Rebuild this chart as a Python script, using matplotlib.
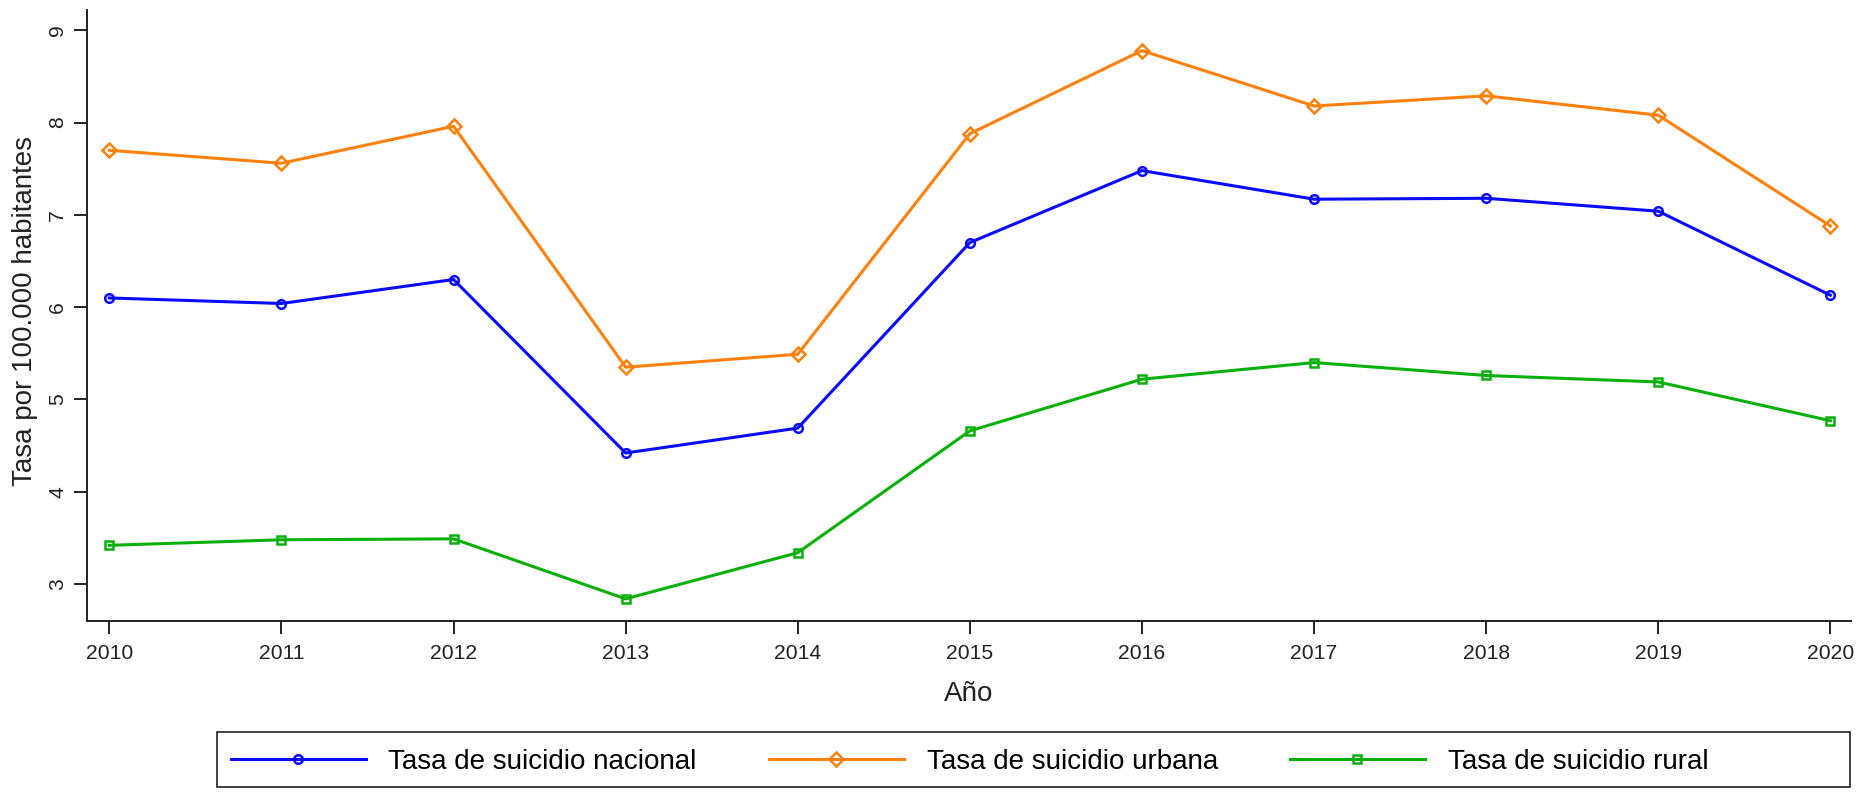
import matplotlib
matplotlib.use("Agg")
import matplotlib.pyplot as plt
from matplotlib.lines import Line2D
from matplotlib.patches import Rectangle

plt.rcParams['font.family'] = ['Liberation Sans', 'DejaVu Sans']

years = [2010, 2011, 2012, 2013, 2014, 2015, 2016, 2017, 2018, 2019, 2020]
nacional = [6.10, 6.04, 6.30, 4.42, 4.69, 6.70, 7.48, 7.17, 7.18, 7.04, 6.13]
urbana = [7.70, 7.56, 7.96, 5.35, 5.49, 7.88, 8.78, 8.18, 8.29, 8.08, 6.88]
rural = [3.42, 3.48, 3.49, 2.84, 3.34, 4.66, 5.22, 5.40, 5.26, 5.19, 4.77]

labels = ["Tasa de suicidio nacional", "Tasa de suicidio urbana", "Tasa de suicidio rural"]
colors = ["#0a0aff", "#ff800a", "#0ab00a"]
markers = ["o", "D", "s"]
yticks = [3, 4, 5, 6, 7, 8, 9]

W, H = 1876, 793
fig = plt.figure(figsize=(W / 100, H / 100), dpi=100)
ax = fig.add_axes([87 / W, 1 - 621 / H, (1851 - 87) / W, (621 - 10) / H])

series = [nacional, urbana, rural]
handles = []
for vals, c, m, lab in zip(series, colors, markers, labels):
    ms = 6.8 if m == "D" else 6.2
    style = dict(color=c, lw=2.2, marker=m, ms=ms, mfc="none", mec=c, mew=1.8)
    ax.plot(years, vals, **style)
    handles.append(Line2D([], [], label=lab, **style))

ax.set_xlim(2009.87, 2020.12)
ax.set_ylim(2.6, 9.22)
ax.set_xticks(years)
ax.set_yticks(yticks)
ax.set_yticklabels([str(v) for v in yticks], rotation=90, va="center")

for s in ["top", "right"]:
    ax.spines[s].set_visible(False)
for s in ["left", "bottom"]:
    ax.spines[s].set_linewidth(1.4)
    ax.spines[s].set_color("#222222")

ax.tick_params(axis="both", length=9.4, width=1.4, color="#222222",
               labelsize=15.2, labelcolor="#222222")
ax.tick_params(axis="x", pad=7)
ax.tick_params(axis="y", pad=5)

ax.set_xlabel("Año", fontsize=20, color="#222222", va="center")
ax.xaxis.set_label_coords(0.5, (621 - 694) / 611)
ax.set_ylabel("Tasa por 100.000 habitantes", fontsize=20, color="#222222", va="center")
ax.yaxis.set_label_coords((25 - 87) / 1764, 0.507)

# legend frame drawn separately so the box can be wider than its entries
fig.patches.append(Rectangle((217 / W, 1 - 787 / H), (1850 - 217) / W, (787 - 732) / H,
                             transform=fig.transFigure, fill=False,
                             edgecolor="#222222", lw=1.2))
fig.legend(handles=handles, loc="center left",
           bbox_to_anchor=(231 / W, 1 - 762 / H), ncol=3, frameon=False,
           fontsize=20, handlelength=4.85, handletextpad=0.82,
           columnspacing=2.6, borderpad=0, borderaxespad=0)

fig.savefig("out.png", dpi=100)
